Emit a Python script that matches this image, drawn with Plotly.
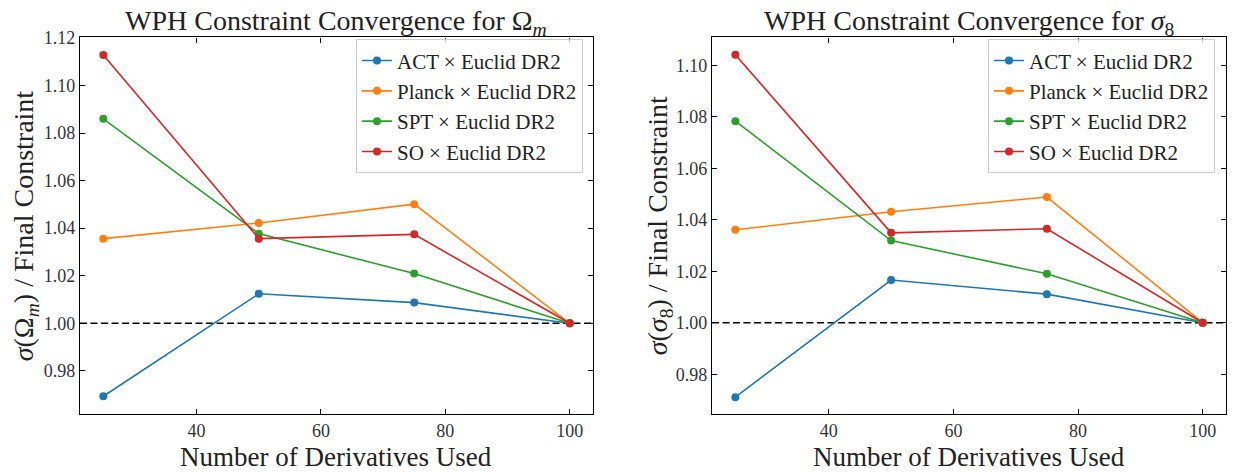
import plotly.graph_objects as go

# Number of derivatives used in the WPH Fisher forecast
n_derivs = [25, 50, 75, 100]

series_names = [
    "ACT × Euclid DR2",
    "Planck × Euclid DR2",
    "SPT × Euclid DR2",
    "SO × Euclid DR2",
]
colors = ["#1f77b4", "#ff7f0e", "#2ca02c", "#d62728"]

# sigma(Omega_m) relative to the final constraint
om_act = [0.9693, 1.0124, 1.0087, 1.0]
om_planck = [1.0356, 1.0422, 1.0501, 1.0]
om_spt = [1.0860, 1.0377, 1.0209, 1.0]
om_so = [1.1128, 1.0356, 1.0374, 1.0]

# sigma(sigma_8) relative to the final constraint
s8_act = [0.9711, 1.0166, 1.0111, 1.0]
s8_planck = [1.0361, 1.0431, 1.0488, 1.0]
s8_spt = [1.0783, 1.0319, 1.0190, 1.0]
s8_so = [1.1041, 1.0349, 1.0365, 1.0]

W, H = 1234, 472
FONT = "Liberation Serif"
TXT = "#222222"

fig = go.Figure()

panels = [
    ("x", "y", "legend", [om_act, om_planck, om_spt, om_so]),
    ("x2", "y2", "legend2", [s8_act, s8_planck, s8_spt, s8_so]),
]
for xa, ya, leg, vals in panels:
    for name, col, v in zip(series_names, colors, vals):
        fig.add_trace(go.Scatter(
            x=n_derivs, y=v, name=name, mode="lines+markers",
            line=dict(color=col, width=1.6),
            marker=dict(color=col, size=8),
            xaxis=xa, yaxis=ya, legend=leg,
        ))

# dashed reference line at unity
for xa, ya in [("x", "y"), ("x2", "y2")]:
    fig.add_shape(type="line", xref=f"{xa} domain", yref=ya,
                  x0=0, x1=1, y0=1.0, y1=1.0, layer="below",
                  line=dict(color="black", width=1.5, dash="7px,3.5px"))

axis_common = dict(
    showline=True, linecolor="black", linewidth=1.2, mirror="ticks",
    ticks="inside", ticklen=5, tickwidth=1, tickcolor="black",
    showgrid=False, zeroline=False,
    tickfont=dict(family=FONT, size=18, color="#333333"),
)

legend_common = dict(
    xanchor="right", yanchor="top",
    bgcolor="rgba(255,255,255,0.8)", bordercolor="#cccccc", borderwidth=1,
    font=dict(family=FONT, size=21, color=TXT),
)

y_dom = [1 - 413 / H, 1 - 29 / H]
fig.update_layout(
    width=W, height=H,
    margin=dict(l=0, r=0, t=0, b=0),
    paper_bgcolor="white", plot_bgcolor="white",
    font=dict(family=FONT, color=TXT),
    xaxis=dict(domain=[80 / W, 593 / W], range=[21.25, 103.75],
               dtick=20, tick0=0, anchor="y", **axis_common),
    yaxis=dict(domain=y_dom, range=[0.9618, 1.1202], dtick=0.02,
               tick0=1.0, tickformat=".2f", anchor="x", **axis_common),
    xaxis2=dict(domain=[712 / W, 1226 / W], range=[21.25, 103.75],
                dtick=20, tick0=0, anchor="y2", **axis_common),
    yaxis2=dict(domain=y_dom, range=[0.9645, 1.1108], dtick=0.02,
                tick0=1.0, tickformat=".2f", anchor="x2", **axis_common),
    legend=dict(x=583 / W, y=1 - 31 / H, **legend_common),
    legend2=dict(x=1215 / W, y=1 - 31 / H, **legend_common),
)

annotations = [
    dict(text="WPH Constraint Convergence for Ω<sub><i>m</i></sub>",
         x=336 / W, y=1 - 14 / H, size=28),
    dict(text="WPH Constraint Convergence for <i>σ</i><sub>8</sub>",
         x=969 / W, y=1 - 14 / H, size=28),
    dict(text="Number of Derivatives Used", x=336 / W, y=1 - 457 / H, size=27),
    dict(text="Number of Derivatives Used", x=969 / W, y=1 - 457 / H, size=27),
]
for a in annotations:
    fig.add_annotation(text=a["text"], x=a["x"], y=a["y"], xref="paper",
                       yref="paper", showarrow=False, xanchor="center",
                       yanchor="middle",
                       font=dict(family=FONT, size=a["size"], color=TXT))

# rotated y-axis labels, anchored by their left edge
fig.add_annotation(text="<i>σ</i>(Ω<sub><i>m</i></sub>) / Final Constraint",
                   x=6 / W, y=1 - 221 / H, xref="paper", yref="paper",
                   xanchor="left", yanchor="middle",
                   showarrow=False, textangle=-90,
                   font=dict(family=FONT, size=28, color=TXT))
fig.add_annotation(text="<i>σ</i>(<i>σ</i><sub>8</sub>) / Final Constraint",
                   x=640 / W, y=1 - 221 / H, xref="paper", yref="paper",
                   xanchor="left", yanchor="middle",
                   showarrow=False, textangle=-90,
                   font=dict(family=FONT, size=28, color=TXT))

fig.write_html("out.html")
